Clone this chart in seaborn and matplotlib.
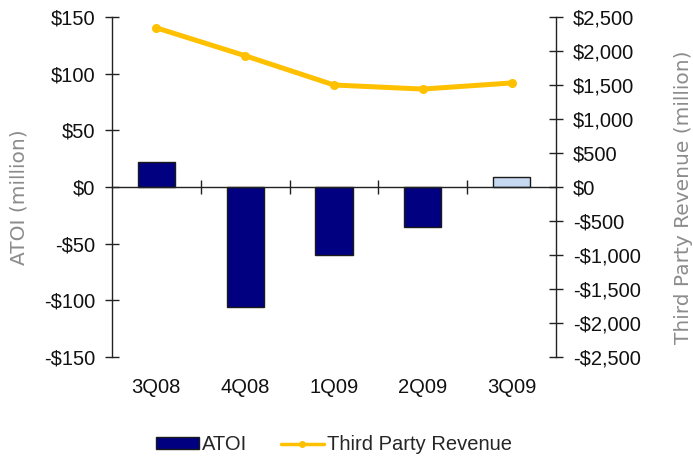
import numpy as np
import pandas as pd
import matplotlib
matplotlib.use("Agg")
import matplotlib.pyplot as plt
import matplotlib.transforms as mtransforms
from matplotlib.patches import Patch
from matplotlib.lines import Line2D
import seaborn as sns

quarters = ["3Q08", "4Q08", "1Q09", "2Q09", "3Q09"]
atoi = [22, -106, -60, -35, 9]
revenue = [2340, 1930, 1500, 1440, 1530]
bar_colors = ["#000080", "#000080", "#000080", "#000080", "#C6D9F1"]

left_ticks = [-150, -100, -50, 0, 50, 100, 150]
right_ticks = [-2500, -2000, -1500, -1000, -500, 0, 500, 1000, 1500, 2000, 2500]

sns.set_theme(style="white")
plt.rcParams["font.family"] = ["Liberation Sans", "DejaVu Sans"]

FS = 14.5
AXIS_GRAY = "#8c8c8c"

df = pd.DataFrame({"quarter": quarters, "atoi": atoi, "revenue": revenue,
                   "pos": np.arange(len(quarters))})

fig = plt.figure(figsize=(6.93, 4.59), dpi=100)
ax = fig.add_axes([0.1616, 0.2222, 0.6407, 0.7408])

sns.barplot(data=df, x="quarter", y="atoi", hue="quarter", palette=bar_colors,
            legend=False, width=0.42, edgecolor="#1a1a1a", linewidth=1.0,
            saturation=1, ax=ax)
ax.set_xlim(-0.5, len(quarters) - 0.5)
ax.set_ylim(-150, 150)

def dollars(v):
    return f"-${abs(v):,}" if v < 0 else f"${v:,}"

ax.set_yticks(left_ticks)
ax.set_yticklabels([dollars(v) for v in left_ticks])
ax.spines["top"].set_visible(False)
ax.spines["right"].set_visible(False)
ax.spines["bottom"].set_position(("data", 0))
for s in ("left", "bottom"):
    ax.spines[s].set_color("#222222")
    ax.spines[s].set_linewidth(1.0)

boundaries = np.arange(len(quarters) - 1) + 0.5
ax.set_xticks(boundaries)
ax.set_xticklabels([])
ax.tick_params(axis="x", direction="inout", length=10, width=1.0, color="#222222",
               bottom=True)
ax.tick_params(axis="y", direction="inout", length=10, width=1.0, color="#222222",
               left=True, labelsize=FS, pad=7, labelcolor="#111111")
ax.set_xlabel("")
ax.set_ylabel("ATOI (million)", fontsize=14.5, color=AXIS_GRAY,
              family="DejaVu Sans")
ax.yaxis.set_label_coords(-0.189, 0.47)

trans = mtransforms.blended_transform_factory(ax.transData, ax.transAxes)
for i, q in enumerate(quarters):
    ax.text(i, -0.09, q, transform=trans, ha="center", va="center",
            fontsize=FS, color="#111111")

ax2 = ax.twinx()
sns.lineplot(data=df, x="pos", y="revenue", color="#FFC000", linewidth=3.6,
             marker="o", markersize=6.5, markeredgewidth=0, ax=ax2)
ax2.set_ylim(-2500, 2500)
ax2.set_yticks(right_ticks)
ax2.set_yticklabels([dollars(v) for v in right_ticks])
for s in ("top", "left", "bottom"):
    ax2.spines[s].set_visible(False)
ax2.spines["right"].set_color("#222222")
ax2.spines["right"].set_linewidth(1.0)
ax2.tick_params(axis="y", direction="inout", length=10, width=1.0, color="#222222",
                right=True, labelsize=FS, pad=7, labelcolor="#111111")
ax2.set_ylabel("Third Party Revenue (million)", fontsize=14.5, color=AXIS_GRAY,
               family="DejaVu Sans")
ax2.yaxis.set_label_coords(1.266, 0.47)
ax2.set_xlabel("")
ax2.set_xlim(-0.5, len(quarters) - 0.5)

handles = [Patch(facecolor="#000080", edgecolor="#1a1a1a", label="ATOI"),
           Line2D([0], [0], color="#FFC000", linewidth=2.5, marker="o",
                  markersize=4, label="Third Party Revenue")]
fig.legend(handles=handles, loc="center", bbox_to_anchor=(0.482, 0.031),
           ncol=2, frameon=False, fontsize=FS, handlelength=2.1,
           handleheight=0.55, handletextpad=0.15, columnspacing=1.7)

fig.savefig("out.png", dpi=100)
